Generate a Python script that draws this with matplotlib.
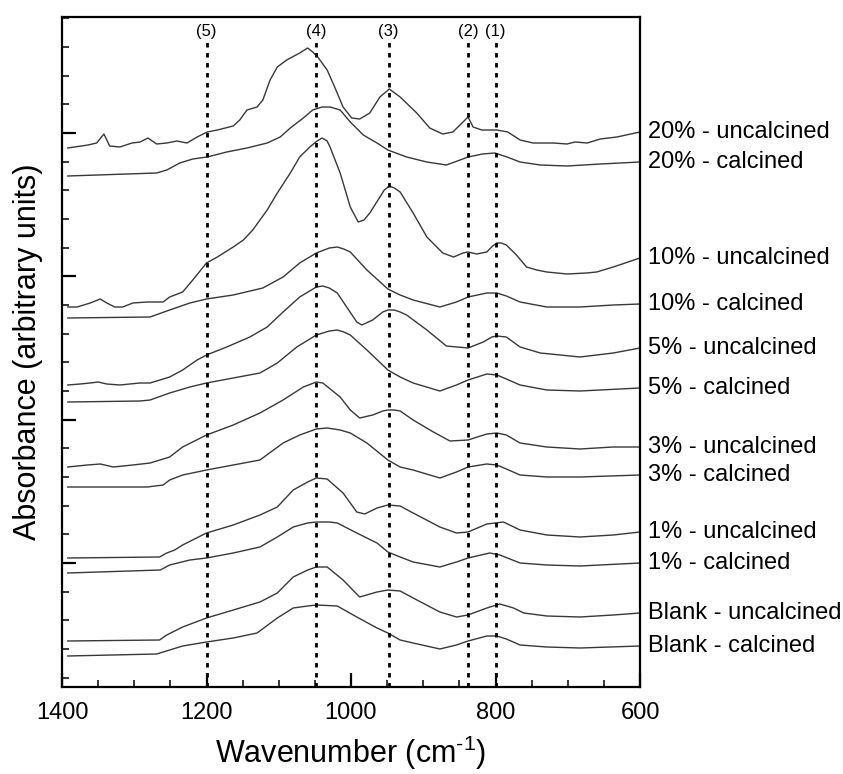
import matplotlib
matplotlib.use("Agg")
import matplotlib.pyplot as plt
import matplotlib.transforms as mtransforms
from matplotlib.ticker import MultipleLocator

plt.rcParams['font.family'] = ['Liberation Sans', 'DejaVu Sans']
plt.rcParams['mathtext.fontset'] = 'custom'
plt.rcParams['mathtext.rm'] = 'Liberation Sans'

# FTIR spectra (absorbance in arbitrary units, stacked)
wn_20u = [1392, 1364, 1352, 1342, 1334, 1320, 1303, 1292, 1281, 1269, 1255, 1241, 1227, 1213,
          1199, 1185, 1163, 1154, 1144, 1130, 1122, 1112, 1102, 1089, 1071, 1060, 1053, 1046,
          1033, 1022, 1011, 999, 988, 974, 960, 947, 932, 909, 891, 873, 859, 845, 838, 831,
          819, 798, 783, 766, 748, 720, 701, 690, 673, 655, 632, 600]
ab_20u = [539, 542, 544, 553, 541, 540, 544, 545, 549, 543, 544, 546, 544, 550,
          555, 557, 561, 567, 577, 580, 587, 607, 620, 627, 634, 639, 635, 630,
          617, 599, 580, 569, 568, 574, 590, 598, 590, 574, 559, 553, 555, 565, 570, 560,
          557, 557, 555, 547, 544, 544, 543, 545, 544, 548, 550, 555]

wn_20c = [1392, 1269, 1255, 1237, 1219, 1199, 1172, 1144, 1116, 1098, 1084, 1066, 1053, 1040,
          1029, 1015, 1001, 983, 964, 949, 923, 895, 868, 849, 838, 818, 801, 784, 766, 738,
          701, 655, 600]
ab_20c = [511, 514, 517, 524, 528, 530, 535, 539, 544, 550, 559, 569, 577, 580,
          580, 577, 565, 552, 544, 537, 530, 525, 522, 527, 530, 533, 534, 530, 525, 522,
          521, 523, 525]

wn_10u = [1392, 1379, 1361, 1347, 1338, 1327, 1316, 1302, 1282, 1269, 1260, 1251, 1233, 1219,
          1200, 1185, 1163, 1149, 1136, 1116, 1102, 1084, 1071, 1057, 1047, 1040, 1033, 1029,
          1015, 1001, 990, 982, 974, 960, 954, 947, 940, 932, 914, 895, 873, 858, 845, 838,
          826, 812, 804, 798, 792, 785, 771, 757, 743, 729, 701, 674, 660, 637, 600]
ab_10u = [380, 380, 384, 388, 384, 380, 380, 384, 385, 385, 385, 390, 395, 407,
          424, 430, 440, 447, 457, 477, 494, 514, 530, 540, 546, 549, 546, 540,
          514, 480, 465, 467, 474, 490, 497, 501, 499, 495, 474, 450, 434, 430, 434, 435,
          433, 435, 441, 444, 444, 442, 432, 420, 417, 415, 413, 414, 415, 420, 429]

wn_10c = [1392, 1278, 1251, 1223, 1200, 1163, 1122, 1094, 1071, 1048, 1030, 1019, 1010, 1001,
          978, 949, 932, 914, 877, 854, 838, 812, 798, 785, 766, 729, 683, 637, 600]
ab_10c = [369, 370, 377, 384, 388, 392, 399, 410, 424, 434, 439, 440, 438, 435,
          417, 398, 392, 387, 380, 385, 390, 394, 394, 391, 385, 380, 380, 382, 383]

wn_5u = [1392, 1375, 1361, 1350, 1338, 1320, 1292, 1278, 1251, 1233, 1213, 1200, 1172, 1140,
         1116, 1094, 1071, 1048, 1039, 1030, 1019, 1006, 992, 985, 970, 956, 949, 940, 932,
         923, 895, 868, 838, 817, 805, 798, 785, 766, 738, 683, 637, 600]
ab_5u = [302, 303, 304, 305, 303, 302, 304, 304, 310, 317, 327, 332, 340, 350,
         360, 375, 390, 400, 401, 399, 394, 380, 365, 362, 367, 375, 377, 377, 375,
         372, 357, 341, 339, 345, 350, 351, 350, 340, 334, 330, 334, 339]

wn_5c = [1392, 1292, 1278, 1251, 1223, 1200, 1163, 1126, 1102, 1075, 1048, 1030, 1019, 1010,
         1001, 978, 949, 932, 914, 877, 854, 838, 812, 798, 785, 766, 729, 683, 600]
ab_5c = [285, 286, 287, 294, 300, 304, 309, 314, 324, 340, 352, 356, 357, 355,
         352, 337, 317, 310, 304, 296, 302, 307, 313, 312, 308, 302, 297, 296, 299]

wn_3u = [1392, 1365, 1347, 1329, 1302, 1278, 1251, 1233, 1200, 1163, 1126, 1094, 1066, 1048,
         1039, 1015, 1001, 988, 970, 956, 949, 940, 932, 914, 886, 863, 838, 812, 798, 785,
         766, 729, 683, 637, 600]
ab_3u = [220, 222, 223, 220, 222, 224, 230, 240, 252, 262, 274, 287, 300, 305,
         304, 290, 277, 269, 272, 276, 277, 277, 276, 267, 255, 246, 247, 253, 254, 252,
         244, 240, 238, 240, 240]

wn_3c = [1392, 1282, 1260, 1251, 1233, 1200, 1126, 1094, 1071, 1048, 1033, 1015, 1001, 978,
         949, 932, 914, 877, 854, 838, 812, 798, 785, 766, 729, 683, 600]
ab_3c = [200, 200, 202, 207, 212, 217, 227, 244, 252, 258, 259, 257, 254, 244,
         227, 220, 217, 209, 215, 220, 223, 222, 218, 212, 210, 210, 212]

wn_1u = [1392, 1265, 1255, 1244, 1233, 1200, 1163, 1126, 1102, 1080, 1060, 1048, 1033, 1011,
         992, 981, 964, 949, 932, 914, 877, 854, 838, 812, 789, 766, 729, 683, 637, 600]
ab_1u = [129, 130, 134, 137, 142, 154, 162, 172, 180, 197, 205, 209, 208, 194,
         175, 173, 179, 182, 181, 174, 160, 154, 155, 163, 165, 157, 152, 150, 152, 155]

wn_1c = [1392, 1264, 1251, 1223, 1200, 1163, 1126, 1102, 1080, 1060, 1048, 1030, 1019, 992,
         964, 949, 932, 914, 877, 854, 838, 808, 794, 766, 729, 683, 600]
ab_1c = [114, 117, 122, 127, 129, 134, 140, 150, 160, 164, 165, 165, 164, 154,
         144, 135, 130, 125, 120, 125, 129, 134, 132, 124, 122, 121, 124]

wn_bu = [1392, 1265, 1255, 1244, 1233, 1200, 1163, 1126, 1102, 1080, 1060, 1048, 1033, 1011,
         988, 964, 949, 932, 914, 877, 854, 838, 812, 794, 775, 761, 729, 683, 637, 600]
ab_bu = [46, 47, 52, 56, 60, 69, 77, 85, 94, 110, 117, 120, 120, 107,
         90, 95, 97, 96, 89, 75, 70, 72, 79, 83, 79, 74, 71, 70, 72, 74]

wn_bc = [1392, 1269, 1251, 1233, 1200, 1163, 1130, 1102, 1080, 1060, 1048, 1019, 992, 964,
         949, 932, 914, 877, 854, 838, 812, 798, 785, 766, 729, 683, 600]
ab_bc = [31, 33, 37, 41, 45, 49, 54, 69, 79, 81, 82, 81, 70, 59,
         54, 47, 44, 38, 42, 46, 51, 51, 48, 42, 40, 39, 41]

labels = ["20% - uncalcined", "20% - calcined", "10% - uncalcined", "10% - calcined",
          "5% - uncalcined", "5% - calcined", "3% - uncalcined", "3% - calcined",
          "1% - uncalcined", "1% - calcined", "Blank - uncalcined", "Blank - calcined"]

# marked band positions
peak_pos = [1200, 1048, 948, 838, 800]
peak_lab = ["(5)", "(4)", "(3)", "(2)", "(1)"]

spectra = [(wn_20u, ab_20u), (wn_20c, ab_20c), (wn_10u, ab_10u), (wn_10c, ab_10c),
           (wn_5u, ab_5u), (wn_5c, ab_5c), (wn_3u, ab_3u), (wn_3c, ab_3c),
           (wn_1u, ab_1u), (wn_1c, ab_1c), (wn_bu, ab_bu), (wn_bc, ab_bc)]

fig = plt.figure(figsize=(8.43, 7.74), dpi=100)
ax = fig.add_axes([62 / 843, 87 / 774, 578 / 843, 670 / 774])

ax.set_xlim(1400, 600)
ax.set_ylim(0, 670)

lbl_trans = mtransforms.blended_transform_factory(ax.transAxes, ax.transData)
for (wn, ab), lab in zip(spectra, labels):
    ax.plot(wn, ab, color='#383838', lw=1.0, solid_joinstyle='round')
    ax.text(1.014, ab[-1], lab, transform=lbl_trans, ha='left', va='center',
            fontsize=17, clip_on=False)

pk_trans = mtransforms.blended_transform_factory(ax.transData, ax.transAxes)
for p, lab in zip(peak_pos, peak_lab):
    ax.axvline(p, ymin=0, ymax=0.963, color='black', lw=2, linestyle=(0, (1.6, 2.0)))
    ax.text(p, 0.979, lab, transform=pk_trans, ha='center', va='center', fontsize=12)

# ticks
ax.set_xticks([1400, 1200, 1000, 800, 600])
ax.xaxis.set_minor_locator(MultipleLocator(50))
ax.yaxis.set_major_locator(MultipleLocator(143.35, offset=124))
ax.yaxis.set_minor_locator(MultipleLocator(28.67, offset=9.3))
ax.tick_params(axis='both', which='major', direction='in', length=10, width=1.6,
               top=False, right=False)
ax.tick_params(axis='both', which='minor', direction='in', length=5, width=1.1,
               top=False, right=False)
ax.tick_params(axis='x', labelsize=17, pad=11)
ax.tick_params(axis='y', labelleft=False)

for sp in ax.spines.values():
    sp.set_linewidth(1.6)

ax.set_xlabel(r"Wavenumber (cm$^{\text{-1}}$)", fontsize=22, labelpad=7)
ax.set_ylabel("Absorbance (arbitrary units)", fontsize=22, labelpad=10)

fig.savefig("out.png", dpi=100)
